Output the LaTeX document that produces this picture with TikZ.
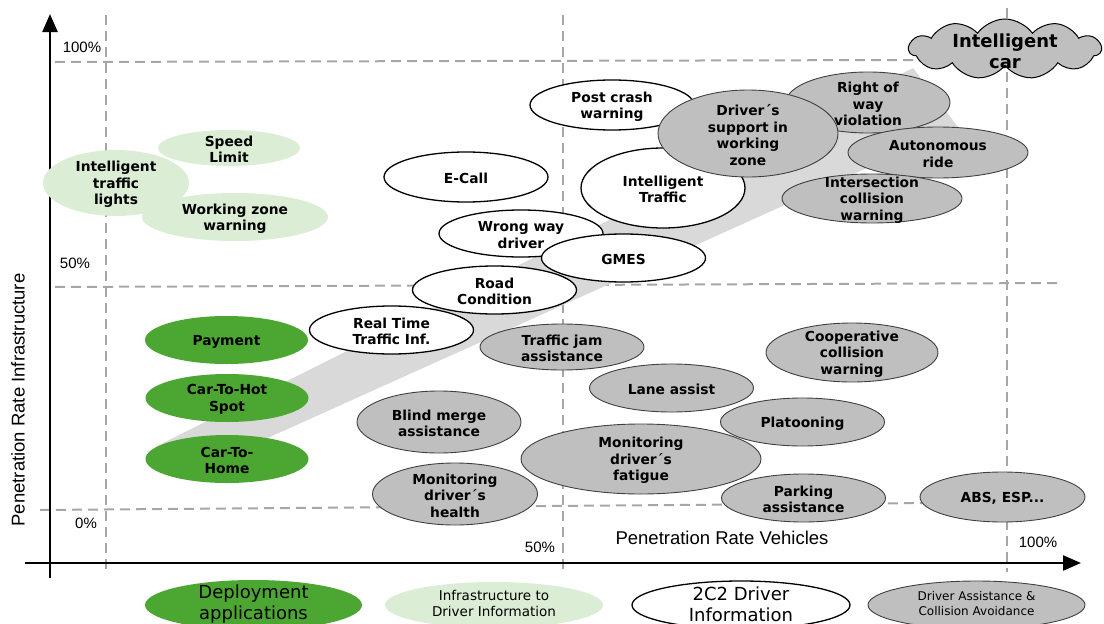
\documentclass[tikz,border=0pt]{standalone}
\usepackage{fontspec}
\setmainfont{DejaVu Sans}
\newfontfamily\arialfont{Liberation Sans}
\usetikzlibrary{shapes.geometric,shapes.symbols,arrows.meta}

\definecolor{gridgray}{HTML}{A6A6A6}
\definecolor{bandgray}{HTML}{D9D9D9}
\definecolor{assistgray}{HTML}{BFBFBF}
\definecolor{deepgreen}{HTML}{4CA632}
\definecolor{palegreen}{HTML}{DCEDD5}

\tikzset{
  gridline/.style={gridgray, line width=2pt, dash pattern=on 10pt off 6pt},
  axisline/.style={line width=2.4pt, -{Triangle[length=18pt,width=15pt]}},
  lbl/.style={font=\bfseries\fontsize{13.8}{16.5}\selectfont, align=center, inner sep=0pt},
  deploy/.style={fill=deepgreen},
  infra/.style={fill=palegreen},
  ctwoc/.style={fill=white, draw=black, line width=1.3pt},
  assist/.style={fill=assistgray, draw=black!75, line width=0.9pt},
  pct/.style={font=\arialfont\fontsize{15}{18}\selectfont, inner sep=0pt},
  axlbl/.style={font=\arialfont\fontsize{18.5}{22}\selectfont, inner sep=0pt},
  legtext/.style={align=center, inner sep=0pt},
  cloudbox/.style={cloud, cloud puffs=11, cloud puff arc=110, aspect=3.2,
    minimum width=192pt, minimum height=60pt, inner sep=0pt,
    fill=assistgray, draw=black, line width=1pt},
}

% ellipse with a centred label: style, name, x, y, x radius, y radius, text
\newcommand\bubble[7]{%
  \path[#1] (#3,#4) ellipse [x radius=#5pt, y radius=#6pt];
  \node[lbl, yshift=-1.5pt] (#2) at (#3,#4) {#7};}

\begin{document}
\begin{tikzpicture}[x=1pt, y=-1pt]
\useasboundingbox (0,0) rectangle (1104,624);
\clip (0,0) rectangle (1104,624);

% dashed grid
\coordinate (gv1a) at (106,15);   \coordinate (gv1b) at (106,572);
\coordinate (gv2a) at (563,15);   \coordinate (gv2b) at (563,572);
\coordinate (gv3a) at (1007,8);   \coordinate (gv3b) at (1007,572);
\coordinate (gh1a) at (55,62);    \coordinate (gh1b) at (915,60);
\coordinate (gh2a) at (55,287);   \coordinate (gh2b) at (1062,283);
\coordinate (gh3a) at (40,510);   \coordinate (gh3b) at (1062,502);
\draw[gridline] (gv1a) -- (gv1b);
\draw[gridline] (gv2a) -- (gv2b);
\draw[gridline] (gv3a) -- (gv3b);
\draw[gridline] (gh1a) -- (gh1b);
\draw[gridline] (gh2a) -- (gh2b);
\draw[gridline] (gh3a) -- (gh3b);

% axes
\coordinate (yfoot) at (50,578);  \coordinate (ytip) at (50,14);
\coordinate (xfoot) at (25,563);  \coordinate (xtip) at (1081,563);
\draw[axisline] (yfoot) -- (ytip);
\draw[axisline] (xfoot) -- (xtip);

% axis texts
\node[pct] (p100y) at (82,47) {100\%};
\node[pct] (p50y)  at (75,263) {50\%};
\node[pct] (p0y)   at (86,523) {0\%};
\node[pct] (p50x)  at (540,547) {50\%};
\node[pct] (p100x) at (1038,542) {100\%};
\node[axlbl] (xname) at (722,538) {Penetration Rate Vehicles};
\node[axlbl, rotate=90] (yname) at (18,400) {Penetration Rate Infrastructure};

% growth band towards the intelligent car
\fill[bandgray] (155,447) -- (913,68) -- (958,127) -- (190,473) -- cycle;

% infrastructure to driver information
\bubble{infra}{speed}{229}{148}{71}{18}{Speed\\Limit}
\bubble{infra}{workzone}{235}{217}{93}{24}{Working zone\\warning}
\bubble{infra}{itlights}{116}{183}{73}{33}{Intelligent\\traffic\\lights}

% deployment applications
\bubble{deploy}{payment}{226.5}{340}{81.5}{24}{Payment}
\bubble{deploy}{hotspot}{227}{398}{81.5}{24}{Car-To-Hot\\Spot}
\bubble{deploy}{home}{227}{459}{81.5}{24}{Car-To-\\Home}

% 2C2 driver information
\bubble{ctwoc}{ecall}{466}{177}{82}{25}{E-Call}
\bubble{ctwoc}{postcrash}{612}{105}{82}{25}{Post crash\\warning}
\bubble{ctwoc}{itraffic}{663}{188}{82}{40}{Intelligent\\Traffic}
\bubble{ctwoc}{wrongway}{521}{233.5}{82}{23.5}{Wrong way\\driver}
\bubble{ctwoc}{gmes}{623.5}{258}{82}{24}{GMES}
\bubble{ctwoc}{road}{494.5}{290}{82}{24}{Road\\Condition}
\bubble{ctwoc}{realtime}{391.5}{330}{82}{24}{Real Time\\Traffic Inf.}

% driver assistance and collision avoidance
\bubble{assist}{rightway}{868}{102.5}{82}{30.5}{Right of\\way\\violation}
\bubble{assist}{drvzone}{748}{133.5}{90}{43.5}{Driver´s\\support in\\working\\zone}
\bubble{assist}{autonomous}{938}{152.5}{90}{25.5}{Autonomous\\ride}
\bubble{assist}{intersection}{872}{198.5}{90}{24.5}{Intersection\\collision\\warning}
\bubble{assist}{trafficjam}{562}{347}{82}{23}{Traffic jam\\assistance}
\bubble{assist}{coop}{852}{352.5}{86}{29.5}{Cooperative\\collision\\warning}
\bubble{assist}{lane}{671.5}{388}{82}{24}{Lane assist}
\bubble{assist}{blind}{439}{422}{82}{31}{Blind merge\\assistance}
\bubble{assist}{platoon}{802.5}{422}{82}{24}{Platooning}
\bubble{assist}{fatigue}{641}{459}{120}{35}{Monitoring\\driver´s\\fatigue}
\bubble{assist}{health}{455}{494}{82.5}{31}{Monitoring\\driver´s\\health}
\bubble{assist}{parking}{803.5}{498}{82}{24}{Parking\\assistance}
\bubble{assist}{abs}{1002.5}{497}{82.5}{25}{ABS, ESP...}

% intelligent car
\node[cloudbox] (cloudshape) at (1005,49) {};
\node[lbl, font=\bfseries\fontsize{18}{21}\selectfont] (carlabel) at (1005,51) {Intelligent\\car};

% legend
\path[deploy] (253.5,605) ellipse [x radius=108.5pt, y radius=25pt];
\node[legtext, font=\fontsize{18}{21}\selectfont] (legdeploy) at (253.5,604) {Deployment\\applications};
\path[infra] (494,605) ellipse [x radius=109pt, y radius=23pt];
\node[legtext, font=\fontsize{13.5}{15.5}\selectfont] (leginfra) at (494,603.5) {Infrastructure to\\Driver Information};
\path[ctwoc] (741,605) ellipse [x radius=109pt, y radius=24pt];
\node[legtext, font=\fontsize{18}{21}\selectfont] (legctwoc) at (741,604) {2C2 Driver\\Information};
\path[assist] (976.5,605) ellipse [x radius=108.5pt, y radius=24pt];
\node[legtext, font=\fontsize{12}{15}\selectfont] (legassist) at (976.5,603.5) {Driver Assistance \&\\Collision Avoidance};
\end{tikzpicture}
\end{document}
